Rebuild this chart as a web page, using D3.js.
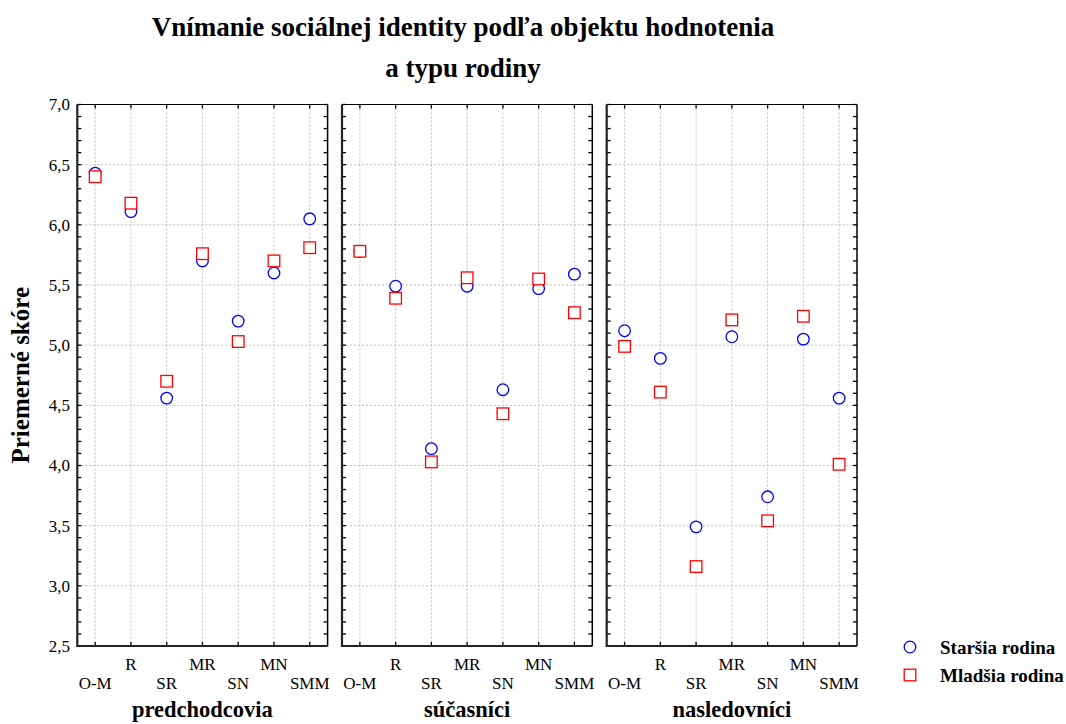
<!DOCTYPE html>
<html>
<head>
<meta charset="utf-8">
<script src="https://cdn.jsdelivr.net/npm/d3@7"></script>
<style>
  body { margin: 0; background: #fff; }
  svg { display: block; }
  text { font-family: "Liberation Serif", "Times New Roman", serif; fill: #000; }
</style>
</head>
<body>
<svg id="chart" width="1066" height="724"></svg>
<script>
// Categories along each panel's x axis
const categories = ["O-M", "R", "SR", "MR", "SN", "MN", "SMM"];
// Panels (object of evaluation)
const panels = ["predchodcovia", "súčasníci", "nasledovníci"];
// Series names
const seriesNames = ["Staršia rodina", "Mladšia rodina"];

// Mean scores, one array per panel, in category order
const starsia_predchodcovia = [6.43, 6.11, 4.56, 5.70, 5.20, 5.60, 6.05];
const starsia_sucasnici     = [5.78, 5.49, 4.14, 5.49, 4.63, 5.47, 5.59];
const starsia_nasledovnici  = [5.12, 4.89, 3.49, 5.07, 3.74, 5.05, 4.56];

const mladsia_predchodcovia = [6.40, 6.18, 4.70, 5.76, 5.03, 5.70, 5.81];
const mladsia_sucasnici     = [5.78, 5.39, 4.03, 5.56, 4.43, 5.55, 5.27];
const mladsia_nasledovnici  = [4.99, 4.61, 3.16, 5.21, 3.54, 5.24, 4.01];

// Y axis
const yTicks = [2.5, 3.0, 3.5, 4.0, 4.5, 5.0, 5.5, 6.0, 6.5, 7.0];
const yDomain = [2.5, 7.0];

const starsia = [starsia_predchodcovia, starsia_sucasnici, starsia_nasledovnici];
const mladsia = [mladsia_predchodcovia, mladsia_sucasnici, mladsia_nasledovnici];

const svg = d3.select("#chart");

// Layout
const plotTop = 104.5, plotBottom = 646;
const panelLeft = [77.3, 342, 606.7];
const panelW = 250.3;
const markR = 5.8;

const y = d3.scaleLinear().domain(yDomain).range([plotBottom, plotTop]);
const fmt = d => d.toFixed(1).replace(".", ",");
const minorTicks = d3.range(25, 71).map(d => d / 10);

const blue = "#0000ff", red = "#ff0000";
const gridColor = "#bdbdbd";

// Title
svg.append("text")
  .attr("x", 463).attr("y", 36)
  .attr("text-anchor", "middle")
  .attr("font-weight", "bold").attr("font-size", 27)
  .text("Vnímanie sociálnej identity podľa objektu hodnotenia");
svg.append("text")
  .attr("x", 463).attr("y", 77)
  .attr("text-anchor", "middle")
  .attr("font-weight", "bold").attr("font-size", 27)
  .text("a typu rodiny");

// Y axis title
svg.append("text")
  .attr("transform", `translate(29,${(plotTop + plotBottom) / 2}) rotate(-90)`)
  .attr("text-anchor", "middle")
  .attr("font-weight", "bold").attr("font-size", 25)
  .text("Priemerné skóre");

// Y tick labels on the first panel
svg.append("g")
  .selectAll("text")
  .data(yTicks)
  .join("text")
  .attr("x", 70)
  .attr("y", d => y(d))
  .attr("dy", "0.35em")
  .attr("text-anchor", "end")
  .attr("font-size", 17)
  .text(fmt);

panels.forEach((name, i) => {
  const x0 = panelLeft[i], x1 = x0 + panelW;
  const x = d3.scalePoint().domain(categories).range([x0, x1]).padding(0.5);
  const g = svg.append("g");

  // Grid
  g.append("g").selectAll("line")
    .data(yTicks.filter(d => d > 2.5 && d < 7.0))
    .join("line")
    .attr("x1", x0).attr("x2", x1)
    .attr("y1", d => y(d)).attr("y2", d => y(d))
    .attr("stroke", gridColor).attr("stroke-width", 1)
    .attr("stroke-dasharray", "2,2");
  g.append("g").selectAll("line")
    .data(categories)
    .join("line")
    .attr("x1", d => x(d)).attr("x2", d => x(d))
    .attr("y1", plotTop).attr("y2", plotBottom)
    .attr("stroke", gridColor).attr("stroke-width", 1)
    .attr("stroke-dasharray", "2,2");

  // Minor ticks, inward on both sides
  g.append("g").selectAll("line")
    .data(minorTicks)
    .join("line")
    .attr("x1", x0).attr("x2", x0 + 4)
    .attr("y1", d => y(d)).attr("y2", d => y(d))
    .attr("stroke", "#000").attr("stroke-width", 1.3);
  g.append("g").selectAll("line")
    .data(minorTicks)
    .join("line")
    .attr("x1", x1).attr("x2", x1 - 4)
    .attr("y1", d => y(d)).attr("y2", d => y(d))
    .attr("stroke", "#000").attr("stroke-width", 1.3);
  // Category ticks on the top and bottom edges
  g.append("g").selectAll("line")
    .data(categories)
    .join("line")
    .attr("x1", d => x(d)).attr("x2", d => x(d))
    .attr("y1", plotBottom).attr("y2", plotBottom - 4)
    .attr("stroke", "#000").attr("stroke-width", 1.3);
  g.append("g").selectAll("line")
    .data(categories)
    .join("line")
    .attr("x1", d => x(d)).attr("x2", d => x(d))
    .attr("y1", plotTop).attr("y2", plotTop + 4)
    .attr("stroke", "#000").attr("stroke-width", 1.3);

  // Frame
  g.append("line").attr("x1", x0).attr("x2", x1).attr("y1", plotTop).attr("y2", plotTop)
    .attr("stroke", "#000").attr("stroke-width", 1.2);
  g.append("line").attr("x1", x1).attr("x2", x1).attr("y1", plotTop).attr("y2", plotBottom)
    .attr("stroke", "#000").attr("stroke-width", 1.5);
  g.append("line").attr("x1", x0).attr("x2", x0).attr("y1", plotTop).attr("y2", plotBottom + 1)
    .attr("stroke", "#222").attr("stroke-width", 2.2);
  g.append("line").attr("x1", x0).attr("x2", x1).attr("y1", plotBottom).attr("y2", plotBottom)
    .attr("stroke", "#222").attr("stroke-width", 2.2);

  // Category labels, staggered in two rows
  g.append("g").selectAll("text")
    .data(categories)
    .join("text")
    .attr("x", d => x(d))
    .attr("y", (d, j) => j % 2 === 0 ? 689 : 670)
    .attr("text-anchor", "middle")
    .attr("font-size", 17)
    .text(d => d);

  // Panel title
  g.append("text")
    .attr("x", (x0 + x1) / 2).attr("y", 717)
    .attr("text-anchor", "middle")
    .attr("font-weight", "bold").attr("font-size", 22.5)
    .text(name);

  // Staršia rodina: circles
  g.append("g").selectAll("circle")
    .data(starsia[i])
    .join("circle")
    .attr("cx", (d, j) => x(categories[j]))
    .attr("cy", d => y(d))
    .attr("r", markR)
    .attr("fill", "#fff").attr("stroke", blue).attr("stroke-width", 1.3);

  // Mladšia rodina: squares, drawn on top
  g.append("g").selectAll("rect")
    .data(mladsia[i])
    .join("rect")
    .attr("x", (d, j) => x(categories[j]) - markR)
    .attr("y", d => y(d) - markR)
    .attr("width", 2 * markR).attr("height", 2 * markR)
    .attr("fill", "#fff").attr("stroke", red).attr("stroke-width", 1.3);
});

// Legend
const legend = svg.append("g");
legend.append("circle").attr("cx", 910).attr("cy", 647).attr("r", markR)
  .attr("fill", "#fff").attr("stroke", blue).attr("stroke-width", 1.3);
legend.append("rect").attr("x", 910 - markR).attr("y", 675 - markR)
  .attr("width", 2 * markR).attr("height", 2 * markR)
  .attr("fill", "#fff").attr("stroke", red).attr("stroke-width", 1.3);
legend.selectAll("text")
  .data(seriesNames)
  .join("text")
  .attr("x", 940)
  .attr("y", (d, i) => i === 0 ? 647 : 675)
  .attr("dy", "0.35em")
  .attr("font-weight", "bold").attr("font-size", 19)
  .text(d => d);
</script>
</body>
</html>
